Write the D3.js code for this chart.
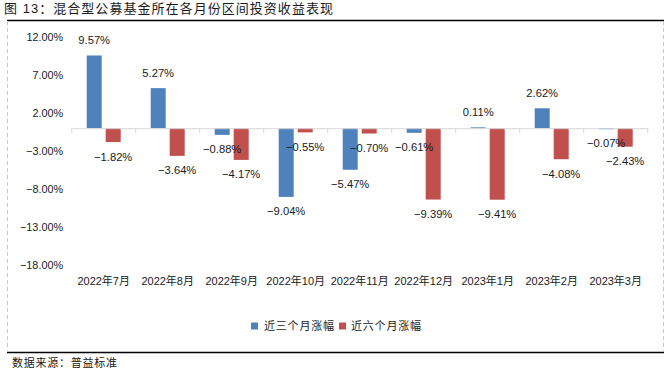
<!DOCTYPE html>
<html><head><meta charset="utf-8">
<script src="https://cdn.jsdelivr.net/npm/d3@7"></script>
<style>
html,body{margin:0;padding:0;background:#fff;}
svg{display:block;}
</style></head>
<body>
<svg id="c" width="672" height="372"></svg>
<script>
const categories = ["2022年7月","2022年8月","2022年9月","2022年10月","2022年11月","2022年12月","2023年1月","2023年2月","2023年3月"];
const series3m = [9.57, 5.27, -0.88, -9.04, -5.47, -0.61, 0.11, 2.62, -0.07];
const series6m = [-1.82, -3.64, -4.17, -0.55, -0.70, -9.39, -9.41, -4.08, -2.43];
const seriesNames = ["近三个月涨幅","近六个月涨幅"];
const yTicks = [12, 7, 2, -3, -8, -13, -18];
const colors = ["#4F81BD","#C0504D"];

const svg = d3.select("#c");
const latin = "Arial, 'Liberation Sans', sans-serif";
const cjk = "Arial, 'Liberation Sans', 'Noto Sans CJK SC', sans-serif";

// frame
svg.append("line").attr("x1",7).attr("x2",664).attr("y1",20.5).attr("y2",20.5).attr("stroke","#000").attr("stroke-width",1.5);
svg.append("line").attr("x1",7).attr("x2",664).attr("y1",352.5).attr("y2",352.5).attr("stroke","#000").attr("stroke-width",1.5);
[7.5, 663.5].forEach(x=>{
  svg.append("line").attr("x1",x).attr("x2",x).attr("y1",21).attr("y2",352)
    .attr("stroke","#c8c8c8").attr("stroke-width",1).attr("stroke-dasharray","4,3");
});

// title
svg.append("text").attr("x",4).attr("y",12.5).attr("font-family",cjk).attr("font-size",13)
  .attr("fill","#1a1a1a").attr("textLength",329).attr("lengthAdjust","spacing")
  .text("图 13：混合型公募基金所在各月份区间投资收益表现");

// source
svg.append("text").attr("x",12).attr("y",367).attr("font-family","'Noto Sans CJK SC', sans-serif").attr("font-size",11)
  .attr("fill","#1a1a1a").attr("textLength",105).attr("lengthAdjust","spacing")
  .text("数据来源：普益标准");

const x0 = d3.scaleBand().domain(categories).range([71.7, 647.7]).paddingInner(0).paddingOuter(0);
const y = d3.scaleLinear().domain([-18, 12]).range([265, 37]);
const barW = 15, gap = 4;

// y tick labels
const yAxis = d3.axisLeft(y).tickValues(yTicks).tickSize(0).tickPadding(0).tickFormat(d=>d3.format(".2f")(d)+"%");
const ya = svg.append("g").attr("transform","translate(63,0)").call(yAxis);
ya.select(".domain").remove();
ya.selectAll("text").attr("font-family",latin).attr("font-size",10.8).attr("fill","#1a1a1a").attr("dy","0.35em");

// bars
const data = [series3m, series6m];
data.forEach((vals, si)=>{
  const offset = x0.bandwidth()/2 + (si===0 ? -(gap/2+barW) : gap/2);
  svg.append("g").selectAll("rect").data(vals).join("rect")
    .attr("x",(d,i)=>x0(categories[i]) + offset)
    .attr("width",barW)
    .attr("y",d=>y(Math.max(0,d)))
    .attr("height",d=>Math.max(1, Math.abs(y(d)-y(0))))
    .attr("fill",colors[si]);
});

// zero axis
const xAxis = d3.axisBottom(x0).tickSize(0).tickFormat("");
const xa = svg.append("g").attr("transform",`translate(0,${y(0)})`).call(xAxis);
xa.select(".domain").attr("stroke","#d9d9d9").attr("stroke-width",1);
const bounds = categories.map(c=>x0(c)).concat([x0.range()[1]]);
xa.selectAll(".bt").data(bounds).join("line").attr("class","bt")
  .attr("x1",d=>d).attr("x2",d=>d).attr("y1",0).attr("y2",5).attr("stroke","#d9d9d9");

// labels
data.forEach((vals, si)=>{
  const offset = x0.bandwidth()/2 + (si===0 ? -(gap/2+barW) : gap/2) + barW/2;
  svg.append("g").selectAll("text").data(vals).join("text")
    .attr("x",(d,i)=>x0(categories[i]) + offset)
    .attr("y",d=> d>=0 ? y(d)-11 : y(d)+18.5)
    .attr("text-anchor","middle")
    .attr("font-family",latin).attr("font-size",11.2).attr("fill","#1a1a1a")
    .text(d=>d3.format(".2f")(d)+"%");
});

// category labels
svg.append("g").selectAll("text").data(categories).join("text")
  .attr("x",d=>x0(d)+x0.bandwidth()/2).attr("y",285)
  .attr("text-anchor","middle").attr("font-family",cjk).attr("font-size",11).attr("fill","#1a1a1a")
  .text(d=>d);

// legend
const leg = [{x:251, tx:264},{x:339, tx:351}];
leg.forEach((l,i)=>{
  svg.append("rect").attr("x",l.x).attr("y",322.5).attr("width",7).attr("height",7).attr("fill",colors[i]);
  svg.append("text").attr("x",l.tx).attr("y",330).attr("font-family","'Noto Sans CJK SC', sans-serif").attr("font-size",11)
    .attr("fill","#1a1a1a").attr("textLength",70).attr("lengthAdjust","spacing").text(seriesNames[i]);
});
</script>
</body></html>
